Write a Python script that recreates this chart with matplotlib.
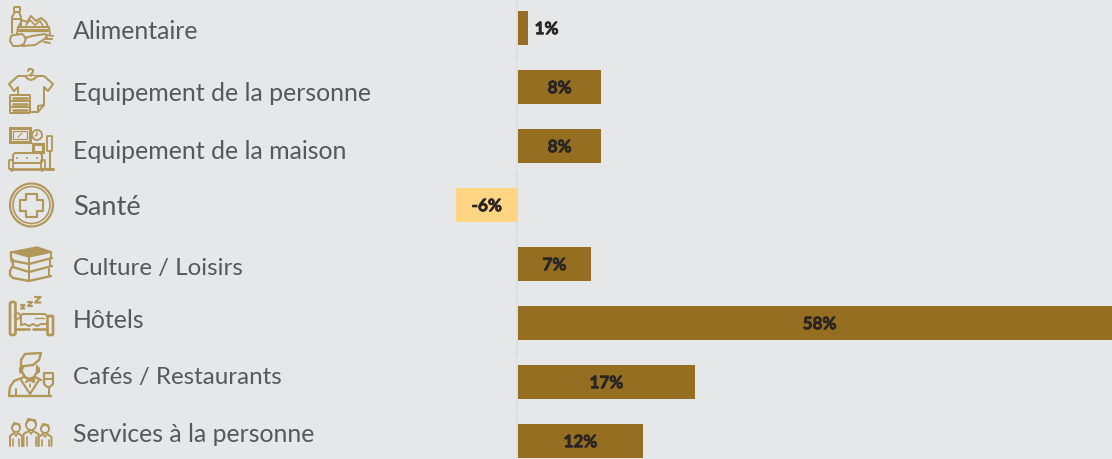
import matplotlib
matplotlib.use('Agg')
import matplotlib.pyplot as plt
import matplotlib.patheffects as pe
from matplotlib.patches import Circle, FancyBboxPatch, Polygon, Rectangle

categories = ['Alimentaire', 'Equipement de la personne', 'Equipement de la maison', 'Santé',
              'Culture / Loisirs', 'Hôtels', 'Cafés / Restaurants', 'Services à la personne']
values = [1, 8, 8, -6, 7, 58, 17, 12]
value_labels = ['1%', '8%', '8%', '-6%', '7%', '58%', '17%', '12%']

label_baselines = [39, 101, 159, 215, 275, 328, 384, 442]
label_sizes = [17.9, 17.9, 17.9, 19.6, 17.4, 17.9, 17.4, 17.8]

BG = '#e6e7e9'
UP = '#956e21'
DOWN = '#ffd583'
ICON = '#b2975a'
TEXT = '#56585c'
VALUE = '#2a2522'
W, H = 1112, 459
PX_PER_UNIT = 10.4
ZERO_X = 518
FIRST_ROW = 28
ROW = 59.0
LW = 1.2


def line(ax, pts, lw=1.2, closed=False):
    xs = [p[0] for p in pts]
    ys = [p[1] for p in pts]
    if closed:
        xs.append(xs[0])
        ys.append(ys[0])
    ax.plot(xs, ys, color=ICON, lw=lw * LW, solid_capstyle='round', solid_joinstyle='round')


def box(ax, x, y, w, h, lw=1.2, r=1.0):
    ax.add_patch(FancyBboxPatch((x + r, y + r), w - 2 * r, h - 2 * r, boxstyle=f'round,pad={r}',
                                fc='none', ec=ICON, lw=lw * LW))


def ring(ax, x, y, r, lw=1.2, fill=False):
    ax.add_patch(Circle((x, y), r, fc=ICON if fill else 'none', ec=ICON, lw=lw * LW))


def food_icon(ax):
    box(ax, 14, 7, 6, 5)
    line(ax, [(15, 12), (12, 17), (12, 33)])
    line(ax, [(19, 12), (21, 17), (21, 27)])
    line(ax, [(12, 19), (21, 19)])
    line(ax, [(17, 34), (18, 27), (49, 27), (50, 34)])
    line(ax, [(19, 30), (47, 30)], lw=2)
    line(ax, [(19, 26), (22, 20), (27, 22), (31, 16), (36, 21), (41, 18), (46, 22), (48, 27)])
    line(ax, [(26, 25), (30, 20), (35, 25), (40, 21), (43, 26)], lw=1)
    line(ax, [(14, 35), (22, 34), (26, 38), (24, 44), (19, 46), (13, 46), (10, 41), (11, 36), (14, 35)])
    line(ax, [(25, 38), (32, 36), (45, 34), (47, 37), (43, 40), (35, 45), (22, 46)])
    line(ax, [(47, 35), (53, 36)])
    line(ax, [(46, 39), (52, 39)])
    line(ax, [(44, 42), (50, 43)])


def shirt_icon(ax):
    line(ax, [(28, 71), (29, 69), (31, 69), (33, 70), (33, 72), (31, 74), (31, 76)])
    line(ax, [(14, 91), (9, 84), (18, 76), (25, 76), (28, 79), (31, 80), (34, 79), (38, 76), (44, 76),
              (53, 84), (48, 91), (44, 87), (44, 105), (38, 112), (30, 112)])
    line(ax, [(25, 76), (31, 75), (38, 76)], lw=0.9)
    line(ax, [(14, 91), (18, 87), (18, 94)])
    line(ax, [(38, 112), (38, 106), (44, 105)])
    box(ax, 10, 95, 20, 6)
    box(ax, 10, 101, 20, 6)
    box(ax, 10, 107, 20, 6)
    line(ax, [(13, 98), (27, 98)], lw=1.6)
    line(ax, [(13, 104), (27, 104)], lw=1.6)
    line(ax, [(13, 110), (27, 110)], lw=1.6)


def home_icon(ax):
    ax.add_patch(Rectangle((10, 128), 20, 14, fc='none', ec=ICON, lw=2.2))
    ax.add_patch(Rectangle((13, 131), 14, 8, fc='none', ec=ICON, lw=0.9))
    line(ax, [(18, 137), (22, 133)], lw=0.7)
    ring(ax, 37, 135, 5, lw=1.1)
    line(ax, [(37, 132), (37, 135), (35, 136)], lw=0.8)
    ax.add_patch(Rectangle((32.5, 144), 10, 8, fc='none', ec=ICON, lw=2.2))
    box(ax, 47, 136, 5, 15, lw=1.1, r=0.5)
    line(ax, [(49.5, 151), (49.5, 169)])
    line(ax, [(46, 169), (53, 169)], lw=1.8)
    line(ax, [(13, 162), (13, 155), (15, 153), (40, 153), (42, 155), (42, 162)])
    box(ax, 9, 160, 4, 9, lw=1.1, r=0.8)
    box(ax, 41, 160, 4, 9, lw=1.1, r=0.8)
    line(ax, [(13, 163), (41, 163)])
    line(ax, [(10, 169), (44, 169)], lw=1.6)
    line(ax, [(12, 169), (12, 171)])
    line(ax, [(42, 169), (42, 171)])
    for x in (17, 27, 37):
        ax.add_patch(Circle((x, 158), 1.0, fc=ICON, ec='none'))


def health_icon(ax):
    ring(ax, 31.5, 205, 21.5, lw=1.3)
    ring(ax, 31.5, 205, 18.5, lw=1.0)
    c = 31.5, 205.5
    a, b = 5.5, 11.5
    arm = [(-a, -b), (a, -b), (a, -a), (b, -a), (b, a), (a, a), (a, b), (-a, b), (-a, a), (-b, a), (-b, -a), (-a, -a)]
    line(ax, [(c[0] + p[0], c[1] + p[1]) for p in arm], lw=1.3, closed=True)


def books_icon(ax):
    ax.add_patch(Polygon([(11, 252), (37, 247), (52, 252), (29, 257)], fc=ICON, ec=ICON, lw=1))
    line(ax, [(11, 252), (11, 258), (14, 261), (29, 264), (52, 258)], lw=1.4)
    line(ax, [(29, 257), (29, 264)])
    line(ax, [(51, 253), (51, 258)])
    line(ax, [(11, 260), (13, 263), (13, 267), (29, 272), (52, 266)], lw=1.4)
    line(ax, [(29, 265), (29, 272)])
    line(ax, [(50, 260), (50, 266)])
    line(ax, [(12, 267), (10, 271), (10, 275), (13, 278), (29, 281), (51, 276)], lw=1.4)
    line(ax, [(29, 273), (29, 281)])
    line(ax, [(49, 269), (49, 275)])


def bed_icon(ax):
    box(ax, 10, 302, 5.5, 33, lw=1.6, r=2)
    box(ax, 47.5, 316, 5.5, 19, lw=1.6, r=1)
    line(ax, [(16, 329), (29, 329)], lw=1.6)
    line(ax, [(33, 329), (47, 329)], lw=1.6)
    ring(ax, 17.5, 316, 2.8, lw=1.1)
    line(ax, [(21, 325), (21, 315), (23, 314), (45, 314), (48, 317)])
    line(ax, [(21, 325), (25, 324), (29, 326), (33, 324), (37, 326), (41, 324), (47, 324)])
    line(ax, [(35, 318), (44, 318)], lw=0.8)
    for x, y, s in ((21, 305, 3.5), (28, 302, 4), (35, 297, 5.5)):
        line(ax, [(x, y), (x + s, y), (x, y + s), (x + s, y + s)], lw=1.3)


def waiter_icon(ax):
    line(ax, [(21, 370), (21, 360), (25, 354), (41, 353), (39, 360), (33, 365), (24, 366), (21, 370)], lw=1.4)
    line(ax, [(22, 366), (22, 372), (25, 377), (29, 379), (34, 377), (37, 372), (37, 366)], lw=1.4)
    line(ax, [(20, 368), (20, 372), (22, 373)])
    line(ax, [(39, 368), (39, 372), (37, 373)])
    line(ax, [(9, 395), (10, 387), (14, 381), (24, 377)], lw=1.4)
    line(ax, [(35, 377), (41, 380)], lw=1.4)
    line(ax, [(9, 396), (51, 396)], lw=1.4)
    line(ax, [(21, 380), (30, 394), (39, 380)], lw=1.3)
    line(ax, [(26, 378), (34, 382), (34, 378), (26, 382)], lw=1.3)
    line(ax, [(16, 389), (16, 395)])
    line(ax, [(30, 384), (30, 387)], lw=1)
    line(ax, [(44, 373), (53, 373), (53, 384), (50, 387), (47, 387), (44, 384)], lw=1.3, closed=True)
    line(ax, [(44, 379), (53, 379)])
    line(ax, [(48.5, 387), (48.5, 395)])


def person(ax, x, y, r, shoulder, bottom):
    ring(ax, x, y, r, lw=1.1)
    line(ax, [(x - r, y - 1), (x - r + 2, y - r - 1), (x + r - 1, y - r), (x + r, y - 1)], lw=1.1)
    line(ax, [(x - shoulder, bottom), (x - shoulder, y + r + 4), (x - 2, y + r + 1)])
    line(ax, [(x + shoulder, bottom), (x + shoulder, y + r + 4), (x + 2, y + r + 1)])
    line(ax, [(x - shoulder + 3, bottom), (x - shoulder + 3, y + r + 7)], lw=1)
    line(ax, [(x + shoulder - 3, bottom), (x + shoulder - 3, y + r + 7)], lw=1)
    line(ax, [(x - 2, y + r + 1), (x, y + r + 4), (x + 2, y + r + 1)], lw=1)


def people_icon(ax):
    person(ax, 16, 428, 4, 6, 446)
    person(ax, 31, 425, 5, 7.5, 446)
    person(ax, 45, 429, 4, 6.5, 446)


fig = plt.figure(figsize=(W / 100, H / 100), dpi=100, facecolor=BG)

# bar panel spans the whole figure, scaled so that zero falls on the axis line
ax = fig.add_axes([0, 0, 1, 1], facecolor=BG)
ax.set_xlim(-ZERO_X / PX_PER_UNIT, (W - ZERO_X) / PX_PER_UNIT)
ax.set_ylim((H - FIRST_ROW) / ROW, -FIRST_ROW / ROW)

rows = list(range(len(values)))
colors = [UP if v >= 0 else DOWN for v in values]
ax.barh(rows, values, height=34 / ROW, color=colors, zorder=3)

for spine in ('top', 'right', 'bottom'):
    ax.spines[spine].set_visible(False)
ax.spines['left'].set_position(('data', -0.08))
ax.spines['left'].set_color('#dcdee1')
ax.spines['left'].set_linewidth(1.2)
ax.set_xticks([])
ax.set_yticks([i + 0.5 for i in rows[:-1]])
ax.tick_params(axis='y', length=3.5, width=1, color='#dcdee1', labelleft=False)

for i, (v, lab) in enumerate(zip(values, value_labels)):
    # the smallest bar is too narrow, its label sits beside it
    x = v + 1.75 if abs(v) < 2 else v / 2
    t = ax.text(x, i + 0.02, lab, ha='center', va='center', family='Lato', weight='bold',
                fontsize=12.3, color=VALUE, zorder=4)
    t.set_path_effects([pe.withStroke(linewidth=0.6, foreground=VALUE)])

# icons and category names live in pixel space on an overlay
ov = fig.add_axes([0, 0, 1, 1], facecolor='none')
ov.set_xlim(0, W)
ov.set_ylim(H, 0)
ov.axis('off')

for name, y, size in zip(categories, label_baselines, label_sizes):
    ov.text(73, y, name, ha='left', va='baseline', family='Lato', fontsize=size, color=TEXT)

for draw_icon in (food_icon, shirt_icon, home_icon, health_icon, books_icon, bed_icon, waiter_icon, people_icon):
    draw_icon(ov)

fig.savefig('out.png', dpi=100, facecolor=BG)
